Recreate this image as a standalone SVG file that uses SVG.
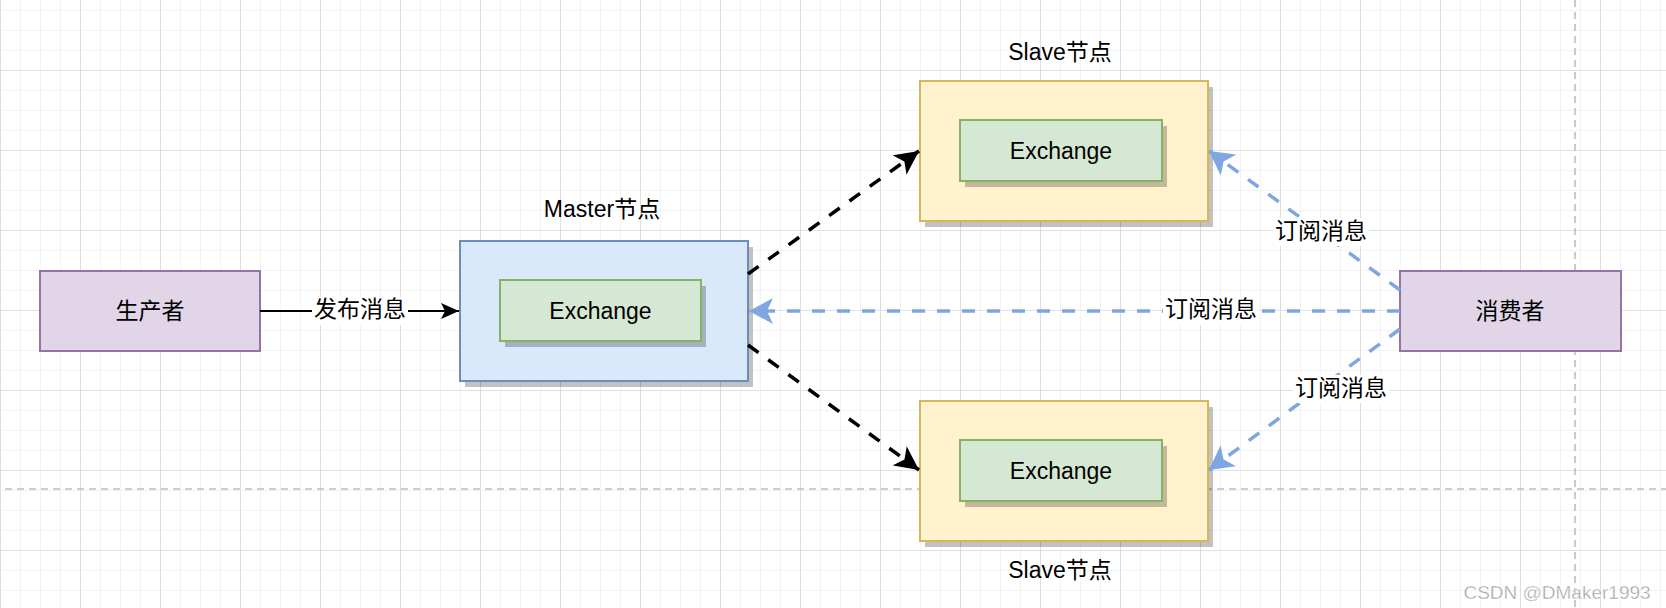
<svg xmlns="http://www.w3.org/2000/svg" width="1666" height="608" viewBox="0 0 1666 608">
<style>
  .txt { font-family: "Liberation Sans", "Noto Sans CJK SC", sans-serif; font-size: 23px; fill: #000; text-anchor: middle; dominant-baseline: central; }
  .shadow { fill: #000; opacity: 0.24; }
  .purple { fill: #e1d5e7; stroke: #9673a6; stroke-width: 2; }
  .blue { fill: #dae8fc; stroke: #6c8ebf; stroke-width: 2; }
  .yellow { fill: #fff2cc; stroke: #d6b656; stroke-width: 2; }
  .green { fill: #d5e8d4; stroke: #82b366; stroke-width: 2; }
  .solid { fill: none; stroke: #000; stroke-width: 2; }
  .bdash { fill: none; stroke: #000; stroke-width: 3.5; stroke-dasharray: 13 12; }
  .ldash { fill: none; stroke: #7ea6e0; stroke-width: 3.5; stroke-dasharray: 13 12; }
  .lblbg { fill: #fff; }
</style>
<defs>
  <pattern id="minor" patternUnits="userSpaceOnUse" x="0" y="10" width="20" height="20">
    <path d="M0 0 H20 M0 0 V20" fill="none" stroke="#f0f0f0" stroke-width="1.6"/>
  </pattern>
  <pattern id="major" patternUnits="userSpaceOnUse" x="0" y="70" width="80" height="80">
    <path d="M0 0 H80 M0 0 V80" fill="none" stroke="#d0d0d0" stroke-width="1.2"/>
  </pattern>
  <marker id="arrBlack" markerUnits="userSpaceOnUse" markerWidth="20" markerHeight="16" refX="18" refY="8" orient="auto">
    <path d="M0 0 L18 8 L0 16 L4 8 Z" fill="#000"/>
  </marker>
  <marker id="arrBlackL" markerUnits="userSpaceOnUse" markerWidth="26" markerHeight="24" refX="24" refY="12" orient="auto">
    <path d="M0 0 L24 12 L0 24 L6 12 Z" fill="#000"/>
  </marker>
  <marker id="arrBlue" markerUnits="userSpaceOnUse" markerWidth="26" markerHeight="26" refX="24" refY="13" orient="auto">
    <path d="M0 0 L24 13 L0 26 L6 13 Z" fill="#7ea6e0"/>
  </marker>
</defs>

<rect x="0" y="0" width="1666" height="608" fill="#ffffff"/>
<rect x="0" y="0" width="1666" height="608" fill="url(#minor)"/>
<rect x="0" y="0" width="1666" height="608" fill="url(#major)"/>
<path d="M5 489 H1666" stroke="#bdbdbd" stroke-width="1.6" stroke-dasharray="7 5" fill="none"/>
<path d="M1575 0 V608" stroke="#bdbdbd" stroke-width="1.6" stroke-dasharray="7 5" fill="none"/>

<g id="producer">
  <rect class="purple" x="40" y="271" width="220" height="80"/>
  <text class="txt" x="150" y="311">生产者</text>
</g>

<g id="master">
  <text class="txt" x="602" y="209">Master节点</text>
  <rect class="shadow" x="465" y="247" width="288" height="140"/>
  <rect class="blue" x="460" y="241" width="288" height="140"/>
  <rect class="shadow" x="505" y="286" width="201" height="61"/>
  <rect class="green" x="500" y="280" width="201" height="61"/>
  <text class="txt" x="600.5" y="311">Exchange</text>
</g>

<g id="slave-top">
  <text class="txt" x="1060" y="52">Slave节点</text>
  <rect class="shadow" x="925" y="87" width="288" height="140"/>
  <rect class="yellow" x="920" y="81" width="288" height="140"/>
  <rect class="shadow" x="965" y="126" width="202" height="61"/>
  <rect class="green" x="960" y="120" width="202" height="61"/>
  <text class="txt" x="1061" y="150.5">Exchange</text>
</g>

<g id="slave-bottom">
  <rect class="shadow" x="925" y="407" width="288" height="140"/>
  <rect class="yellow" x="920" y="401" width="288" height="140"/>
  <rect class="shadow" x="965" y="446" width="202" height="61"/>
  <rect class="green" x="960" y="440" width="202" height="61"/>
  <text class="txt" x="1061" y="470.5">Exchange</text>
  <text class="txt" x="1060" y="570">Slave节点</text>
</g>

<g id="consumer">
  <rect class="purple" x="1400" y="271" width="221" height="80"/>
  <text class="txt" x="1510" y="311">消费者</text>
</g>

<g id="connectors">
  <path class="solid" d="M260 311 H459" marker-end="url(#arrBlack)"/>
  <rect class="lblbg" x="312" y="297" width="96" height="28"/>
  <text class="txt" x="360" y="309">发布消息</text>

  <path class="bdash" d="M748 274 L919 151" marker-end="url(#arrBlackL)"/>
  <path class="bdash" d="M748 345 L919 470" marker-end="url(#arrBlackL)"/>

  <path class="ldash" d="M1400 311 H749" marker-end="url(#arrBlue)"/>
  <rect class="lblbg" x="1163" y="297" width="96" height="28"/>
  <text class="txt" x="1211" y="309">订阅消息</text>

  <path class="ldash" d="M1400 290 L1209 151" marker-end="url(#arrBlue)"/>
  <rect class="lblbg" x="1273" y="218" width="96" height="28"/>
  <text class="txt" x="1321" y="231">订阅消息</text>

  <path class="ldash" d="M1400 329 L1209 470" marker-end="url(#arrBlue)"/>
  <rect class="lblbg" x="1293" y="375" width="96" height="28"/>
  <text class="txt" x="1341" y="388">订阅消息</text>
</g>

<text x="1557" y="592" font-family="Liberation Sans, sans-serif" font-size="19" fill="#a0a0a0" stroke="#ffffff" stroke-width="0.4" text-anchor="middle" dominant-baseline="central">CSDN @DMaker1993</text>
</svg>
